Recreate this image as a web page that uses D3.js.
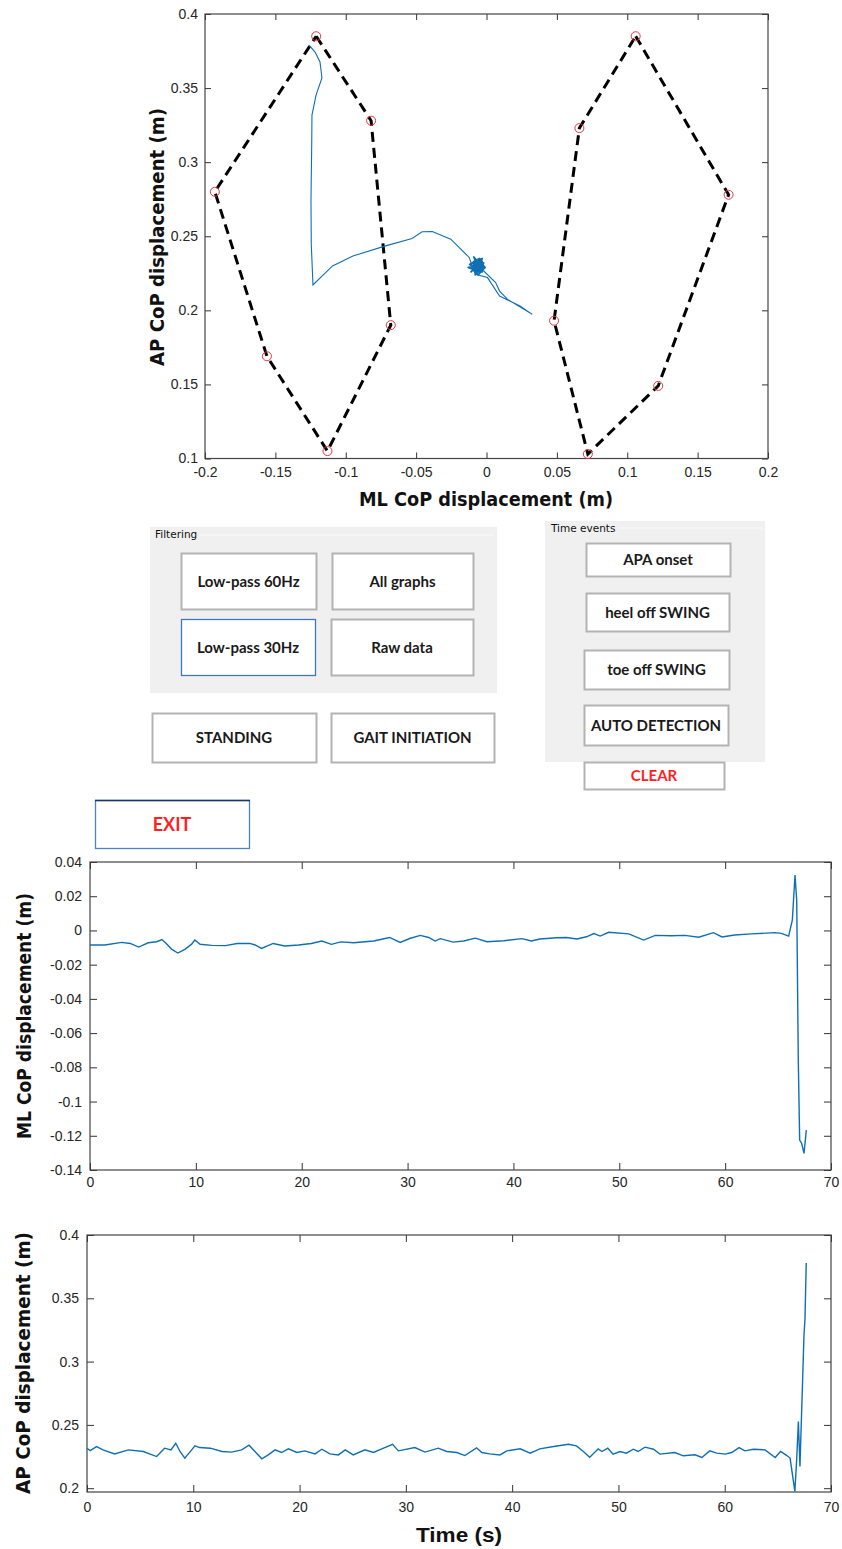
<!DOCTYPE html>
<html>
<head>
<meta charset="utf-8">
<script src="https://cdn.jsdelivr.net/npm/d3@7"></script>
<style>
  body { margin: 0; background: #fff; }
  svg { display: block; }
</style>
</head>
<body>
<svg id="fig" width="842" height="1549"></svg>
<script>
// ---- data ----

// foot outlines (ML, AP) in metres, one polygon per foot
const leftFoot  = [[-0.121, 0.385], [-0.082, 0.328], [-0.068, 0.190], [-0.113, 0.105], [-0.156, 0.169], [-0.193, 0.280]];
const rightFoot = [[0.106, 0.385], [0.172, 0.278], [0.122, 0.149], [0.072, 0.103], [0.048, 0.193], [0.066, 0.323]];

// CoP trajectory in the ML/AP plane: standing scribble, then APA loop and step
const copStanding = [[-0.006, 0.229], [-0.004, 0.232], [-0.008, 0.227], [-0.003, 0.226], [-0.009, 0.233], [-0.005, 0.235],
  [-0.002, 0.230], [-0.010, 0.228], [-0.006, 0.224], [-0.001, 0.229], [-0.007, 0.234], [-0.012, 0.231], [-0.004, 0.227],
  [-0.008, 0.230], [-0.003, 0.233], [-0.011, 0.226], [-0.006, 0.231], [-0.002, 0.228], [-0.009, 0.236], [-0.005, 0.226],
  [-0.013, 0.229], [-0.004, 0.230], [-0.007, 0.225], [-0.003, 0.235], [-0.010, 0.232], [-0.005, 0.228], [-0.008, 0.224],
  [-0.002, 0.232], [-0.006, 0.230], [-0.004, 0.228], [-0.009, 0.229], [-0.005, 0.233], [-0.007, 0.227], [-0.003, 0.231],
  [-0.008, 0.233], [-0.006, 0.226], [-0.004, 0.234], [-0.010, 0.230], [-0.005, 0.231], [-0.007, 0.229], [-0.002, 0.227]];
const copStep = [[-0.002, 0.2266], [0.0065, 0.2187], [0.0093, 0.2130], [0.0150, 0.2074], [0.0325, 0.1973],
  [0.0238, 0.2029], [0.0093, 0.2097], [0.0007, 0.2221], [-0.0080, 0.2243], [-0.0123, 0.2357], [-0.0254, 0.2480],
  [-0.0385, 0.2532], [-0.0457, 0.2530], [-0.0529, 0.2485], [-0.0717, 0.2435], [-0.0949, 0.2367], [-0.1094, 0.2300],
  [-0.1233, 0.2171], [-0.1245, 0.2450], [-0.1247, 0.2745], [-0.1242, 0.3100], [-0.1240, 0.3318], [-0.1211, 0.3453],
  [-0.1169, 0.3568], [-0.1183, 0.3676], [-0.1218, 0.3743], [-0.1261, 0.3790]];

// ML CoP over time
const mlTime = [0, 1.4, 3.0, 3.8, 4.6, 5.5, 6.3, 6.8, 7.2, 7.7, 8.3, 9.0, 9.6, 9.9, 10.4, 11.5, 12.8, 13.9, 15.1, 15.6,
  16.2, 17.3, 18.4, 19.7, 20.9, 21.9, 22.8, 23.7, 24.9, 26.8, 28.3, 29.3, 30.2, 31.2, 32.0, 32.6, 33.1, 34.3, 35.3, 36.4,
  37.5, 39.1, 40.8, 41.7, 42.5, 44.1, 45.0, 46.0, 46.9, 47.6, 48.2, 49.0, 50.9, 52.3, 53.4, 54.9, 56.2, 57.5, 58.9, 59.7,
  60.9, 62.5, 64.7, 65.3, 66.0, 66.35, 66.6, 66.76, 66.91, 67.04, 67.23, 67.45, 67.67];
const mlValue = [-0.0085, -0.0085, -0.0070, -0.0076, -0.0097, -0.0072, -0.0066, -0.0053, -0.0076, -0.0109, -0.0132,
  -0.0109, -0.0080, -0.0056, -0.0081, -0.0087, -0.0089, -0.0076, -0.0076, -0.0085, -0.0105, -0.0076, -0.0091, -0.0085,
  -0.0076, -0.0062, -0.0081, -0.0067, -0.0072, -0.0062, -0.0041, -0.0070, -0.0047, -0.0029, -0.0041, -0.0062, -0.0048,
  -0.0068, -0.0062, -0.0045, -0.0066, -0.0060, -0.0048, -0.0062, -0.0050, -0.0043, -0.0041, -0.0050, -0.0037, -0.0018,
  -0.0033, -0.0011, -0.0020, -0.0056, -0.0029, -0.0031, -0.0029, -0.0040, -0.0013, -0.0038, -0.0027, -0.0020, -0.0013,
  -0.0017, -0.0033, 0.0061, 0.0324, 0.0177, -0.0757, -0.1225, -0.1245, -0.1303, -0.1167];

// AP CoP over time
const apTime = [0, 0.3, 0.9, 1.5, 2.6, 3.9, 5.3, 6.55, 7.3, 7.9, 8.35, 8.75, 9.2, 9.85, 10.15, 10.6, 11.6, 12.7, 13.6,
  14.55, 15.25, 15.8, 16.45, 17.05, 17.7, 18.3, 18.95, 19.75, 20.5, 21.45, 22.1, 22.85, 23.65, 24.3, 25.05, 26.15, 26.95,
  27.9, 28.75, 29.3, 30.85, 31.8, 33.05, 33.85, 34.8, 35.55, 36.65, 37.15, 37.9, 38.85, 39.5, 40.75, 41.7, 42.6, 43.9,
  45.3, 46.05, 46.7, 47.3, 48.1, 48.45, 49.0, 49.5, 50.15, 50.75, 51.4, 51.85, 52.5, 53.3, 53.9, 55.3, 56.1, 57.2, 57.85,
  58.6, 59.25, 60.05, 60.65, 61.35, 61.9, 62.7, 63.8, 64.75, 65.25, 65.85, 66.15, 66.6, 66.77, 66.93, 67.08, 67.46,
  67.55, 67.67];
const apValue = [0.2316, 0.2297, 0.2329, 0.2303, 0.2271, 0.2303, 0.2290, 0.2250, 0.2316, 0.2303, 0.2355, 0.2290, 0.2237,
  0.2303, 0.2334, 0.2321, 0.2316, 0.2290, 0.2285, 0.2303, 0.2340, 0.2290, 0.2232, 0.2263, 0.2303, 0.2282, 0.2311, 0.2282,
  0.2295, 0.2271, 0.2308, 0.2271, 0.2263, 0.2303, 0.2263, 0.2303, 0.2282, 0.2316, 0.2347, 0.2295, 0.2321, 0.2285, 0.2316,
  0.2290, 0.2282, 0.2258, 0.2319, 0.2282, 0.2271, 0.2263, 0.2295, 0.2311, 0.2277, 0.2311, 0.2329, 0.2347, 0.2334, 0.2290,
  0.2245, 0.2311, 0.2290, 0.2316, 0.2269, 0.2290, 0.2277, 0.2308, 0.2290, 0.2324, 0.2308, 0.2269, 0.2282, 0.2256, 0.2264,
  0.2243, 0.2295, 0.2277, 0.2269, 0.2282, 0.2321, 0.2295, 0.2308, 0.2303, 0.2243, 0.2290, 0.2258, 0.2238, 0.1975, 0.2225,
  0.2527, 0.2172, 0.3212, 0.3330, 0.3778];

// tick values
const planeXTicks = [-0.2, -0.15, -0.1, -0.05, 0, 0.05, 0.1, 0.15, 0.2];
const planeYTicks = [0.1, 0.15, 0.2, 0.25, 0.3, 0.35, 0.4];
const timeTicks   = [0, 10, 20, 30, 40, 50, 60, 70];
const mlTicks     = [0.04, 0.02, 0, -0.02, -0.04, -0.06, -0.08, -0.1, -0.12, -0.14];
const apTicks     = [0.2, 0.25, 0.3, 0.35, 0.4];

// GUI buttons
const filterButtons = [
  {label: 'Low-pass 60Hz', x: 181, y: 553, w: 135, h: 56},
  {label: 'All graphs', x: 332, y: 553, w: 141, h: 56},
  {label: 'Low-pass 30Hz', x: 181, y: 619, w: 134, h: 56, focus: true},
  {label: 'Raw data', x: 331, y: 619, w: 142, h: 56},
  {label: 'STANDING', x: 152, y: 713, w: 164, h: 49},
  {label: 'GAIT INITIATION', x: 331, y: 713, w: 163, h: 49}
];
const eventButtons = [
  {label: 'APA onset', x: 586, y: 543, w: 144, h: 33},
  {label: 'heel off SWING', x: 586, y: 593, w: 143, h: 38},
  {label: 'toe off SWING', x: 584, y: 650, w: 145, h: 39},
  {label: 'AUTO DETECTION', x: 584, y: 705, w: 144, h: 40},
  {label: 'CLEAR', x: 584, y: 762, w: 140, h: 27, red: true}
];

// ---- drawing ----
const svg = d3.select('#fig');
const lineColor = '#0f6fb5';
const tickFont = '"Liberation Sans", Arial, sans-serif';
const titleFont = '"DejaVu Sans", Verdana, sans-serif';
const fmt = d => String(+d.toFixed(3));

function drawAxes(x, y, xt, yt, opts) {
  const [x0, x1] = x.range();
  const [yb, yt0] = y.range();
  const tl = opts.tick;
  const g = svg.append('g');
  g.append('g').attr('transform', `translate(0,${yb})`)
    .call(d3.axisBottom(x).tickValues(xt).tickSize(-tl).tickPadding(opts.xPad).tickFormat(fmt));
  g.append('g').attr('transform', `translate(0,${yt0})`)
    .call(d3.axisTop(x).tickValues(xt).tickSize(-tl).tickFormat(''));
  g.append('g').attr('transform', `translate(${x0},0)`)
    .call(d3.axisLeft(y).tickValues(yt).tickSize(-tl).tickPadding(opts.yPad).tickFormat(fmt));
  g.append('g').attr('transform', `translate(${x1},0)`)
    .call(d3.axisRight(y).tickValues(yt).tickSize(-tl).tickFormat(''));
  g.selectAll('.domain').remove();
  g.selectAll('.tick line').attr('stroke', '#333').attr('stroke-width', 1);
  g.selectAll('.tick text').attr('fill', '#262626')
    .style('font-family', tickFont).style('font-size', opts.fs + 'px');
  g.append('rect')
    .attr('x', x0).attr('y', yt0).attr('width', x1 - x0).attr('height', yb - yt0)
    .attr('fill', 'none').attr('stroke', '#444').attr('stroke-width', 1.2);
}

function title(txt, x, y, len, rotate, font, size) {
  const t = svg.append('text')
    .attr('text-anchor', 'middle')
    .attr('font-family', font).attr('font-weight', 'bold').attr('font-size', size)
    .attr('fill', '#111')
    .attr('textLength', len).attr('lengthAdjust', 'spacingAndGlyphs')
    .text(txt);
  if (rotate) t.attr('transform', `translate(${x},${y}) rotate(-90)`);
  else t.attr('x', x).attr('y', y);
}

// --- CoP plane plot ---
const px = d3.scaleLinear().domain([-0.2, 0.2]).range([205, 768]);
const py = d3.scaleLinear().domain([0.1, 0.4]).range([458.5, 14]);
drawAxes(px, py, planeXTicks, planeYTicks, {tick: 6, xPad: 9, yPad: 7, fs: 14});

const planeLine = d3.line().x(d => px(d[0])).y(d => py(d[1]));
[leftFoot, rightFoot].forEach(foot => {
  svg.append('path')
    .attr('d', planeLine(foot.concat([foot[0]])))
    .attr('fill', 'none').attr('stroke', '#000').attr('stroke-width', 3)
    .attr('stroke-dasharray', '10,6');
  svg.selectAll(null).data(foot).join('circle')
    .attr('cx', d => px(d[0])).attr('cy', d => py(d[1])).attr('r', 4.5)
    .attr('fill', 'none').attr('stroke', '#e0393e').attr('stroke-width', 1);
});
// dense standing scribble drawn a little heavier, then the stepping path
svg.append('path')
  .attr('d', planeLine(copStanding))
  .attr('fill', 'none').attr('stroke', lineColor).attr('stroke-width', 1.8)
  .attr('stroke-linejoin', 'round');
svg.append('path')
  .attr('d', planeLine(copStanding.slice(-1).concat(copStep)))
  .attr('fill', 'none').attr('stroke', lineColor).attr('stroke-width', 1.1);

title('ML CoP displacement (m)', 486, 506, 254, false, titleFont, 20);
title('AP CoP displacement (m)', 164, 237, 258, true, titleFont, 20);

// --- GUI panels ---
const ui = svg.append('g').style('font-family', 'Lato, "Open Sans", sans-serif');
ui.append('rect').attr('x', 150).attr('y', 527).attr('width', 347).attr('height', 166).attr('fill', '#f0f0f0');
ui.append('rect').attr('x', 545).attr('y', 521).attr('width', 220).attr('height', 241).attr('fill', '#f0f0f0');
ui.append('line').attr('x1', 200).attr('x2', 494).attr('y1', 535).attr('y2', 535).attr('stroke', '#fafafa');
ui.append('line').attr('x1', 618).attr('x2', 763).attr('y1', 528).attr('y2', 528).attr('stroke', '#fafafa');
ui.append('text').attr('x', 155).attr('y', 538).attr('font-family', '"DejaVu Sans", Tahoma, sans-serif')
  .attr('font-size', 10.5).attr('fill', '#111').text('Filtering');
ui.append('text').attr('x', 551).attr('y', 532).attr('font-family', '"DejaVu Sans", Tahoma, sans-serif')
  .attr('font-size', 10.5).attr('fill', '#111').text('Time events');

function drawButton(b) {
  const g = ui.append('g');
  g.append('rect')
    .attr('x', b.x + 0.5).attr('y', b.y + 0.5).attr('width', b.w).attr('height', b.h)
    .attr('fill', '#fff')
    .attr('stroke', b.focus ? '#3f78c0' : '#b3b3b3').attr('stroke-width', b.focus ? 1.3 : 2);
  g.append('text')
    .attr('x', b.x + b.w / 2).attr('y', b.y + b.h / 2 + 5.5)
    .attr('text-anchor', 'middle').attr('font-weight', 'bold').attr('font-size', 15)
    .attr('fill', b.red ? '#ff1f1f' : '#1a1a1a')
    .text(b.label);
}
filterButtons.forEach(drawButton);
eventButtons.forEach(drawButton);

// EXIT button
ui.append('rect').attr('x', 95.5).attr('y', 800.5).attr('width', 154).attr('height', 48)
  .attr('fill', '#fff').attr('stroke', '#4d83bf').attr('stroke-width', 1.3);
ui.append('line').attr('x1', 95).attr('x2', 250).attr('y1', 800.5).attr('y2', 800.5)
  .attr('stroke', '#1d3566').attr('stroke-width', 1.5);
ui.append('text').attr('x', 172).attr('y', 831).attr('text-anchor', 'middle')
  .attr('font-weight', 'bold').attr('font-size', 18).attr('fill', '#ff1f1f').text('EXIT');

// --- ML over time ---
const tx1 = d3.scaleLinear().domain([0, 70]).range([90, 831]);
const my = d3.scaleLinear().domain([-0.14, 0.04]).range([1170, 862]);
drawAxes(tx1, my, timeTicks, mlTicks, {tick: 7, xPad: 7, yPad: 8, fs: 14});
svg.append('path')
  .attr('d', d3.line().x((d, i) => tx1(mlTime[i])).y(d => my(d))(mlValue))
  .attr('fill', 'none').attr('stroke', lineColor).attr('stroke-width', 1.4);
title('ML CoP displacement (m)', 31, 1016, 246, true, titleFont, 20);

// --- AP over time ---
const tx2 = d3.scaleLinear().domain([0, 70]).range([87, 831]);
const ay = d3.scaleLinear().domain([0.197, 0.4]).range([1492, 1235]);
drawAxes(tx2, ay, timeTicks, apTicks, {tick: 7, xPad: 10, yPad: 8, fs: 14});
svg.append('path')
  .attr('d', d3.line().x((d, i) => tx2(apTime[i])).y(d => ay(d))(apValue))
  .attr('fill', 'none').attr('stroke', lineColor).attr('stroke-width', 1.4);
title('AP CoP displacement (m)', 30, 1363, 262, true, titleFont, 20);
title('Time (s)', 459, 1542, 86, false, '"Liberation Sans", Arial, sans-serif', 21);
</script>
</body>
</html>
